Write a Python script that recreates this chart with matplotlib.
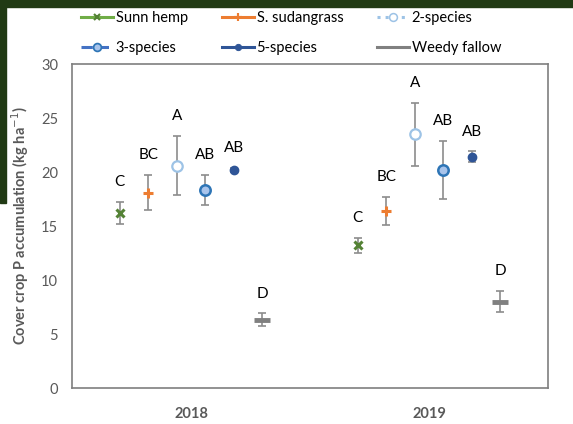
import numpy as np
import matplotlib
matplotlib.use("Agg")
import matplotlib.pyplot as plt
from matplotlib.lines import Line2D
from matplotlib.patches import Rectangle

plt.rcParams['font.family'] = ['Lato', 'DejaVu Sans']

years = ['2018', '2019']
treatments = ['Sunn hemp', 'S. sudangrass', '2-species', '3-species', '5-species', 'Weedy fallow']

# mean P accumulation per treatment, [2018, 2019]
means = {
    'Sunn hemp':     [16.2, 13.2],
    'S. sudangrass': [18.1, 16.4],
    '2-species':     [20.6, 23.5],
    '3-species':     [18.3, 20.2],
    '5-species':     [20.2, 21.4],
    'Weedy fallow':  [6.3, 8.0],
}
errors = {
    'Sunn hemp':     [1.0, 0.7],
    'S. sudangrass': [1.6, 1.3],
    '2-species':     [2.7, 2.9],
    '3-species':     [1.4, 2.7],
    '5-species':     [0.2, 0.5],
    'Weedy fallow':  [0.6, 1.0],
}
letters = {
    'Sunn hemp':     ['C', 'C'],
    'S. sudangrass': ['BC', 'BC'],
    '2-species':     ['A', 'A'],
    '3-species':     ['AB', 'AB'],
    '5-species':     ['AB', 'AB'],
    'Weedy fallow':  ['D', 'D'],
}

# marker style per treatment
styles = {
    'Sunn hemp':     dict(marker='x', ms=6, mfc='#548235', mec='#548235', mew=2.2, ls='-', lc='#70AD47'),
    'S. sudangrass': dict(marker='+', ms=7, mfc='#ED7D31', mec='#ED7D31', mew=2.2, ls='-', lc='#ED7D31'),
    '2-species':     dict(marker='o', ms=7.5, mfc='white', mec='#9DC3E6', mew=1.6, ls=':', lc='#9DC3E6'),
    '3-species':     dict(marker='o', ms=7.5, mfc='#A9C4EB', mec='#2E75B6', mew=1.8, ls='--', lc='#4472C4'),
    '5-species':     dict(marker='o', ms=6, mfc='#2F5597', mec='#2F5597', mew=1.0, ls='-', lc='#2F5597'),
    'Weedy fallow':  dict(marker='_', ms=11, mfc='#808080', mec='#808080', mew=3.5, ls='-', lc='#808080'),
}

offsets = [-0.3, -0.18, -0.06, 0.06, 0.18, 0.3]
grey = '#595959'

fig = plt.figure(figsize=(5.73, 4.24), dpi=100)
ax = fig.add_axes([72 / 573, 1 - 388 / 424, 476 / 573, 324 / 424])

x = np.arange(len(years))
for t, off in zip(treatments, offsets):
    s = styles[t]
    xs = x + off
    ax.errorbar(xs, means[t], yerr=errors[t], fmt='none', ecolor='#8C8C8C',
                elinewidth=1.2, capsize=3, capthick=1.2, zorder=2)
    ax.plot(xs, means[t], linestyle='none', marker=s['marker'], markersize=s['ms'],
            markerfacecolor=s['mfc'], markeredgecolor=s['mec'], markeredgewidth=s['mew'], zorder=3)
    for xi, m, e, lab in zip(xs, means[t], errors[t], letters[t]):
        ax.text(xi, m + e + 1.85, lab, ha='center', va='center', fontsize=11, color='black')

ax.set_xlim(-0.5, 1.5)
ax.set_ylim(0, 30)
ax.set_yticks(np.arange(0, 31, 5))
ax.set_xticks(x)
ax.set_xticklabels(years, fontweight='bold')
ax.tick_params(axis='both', length=0, colors=grey, labelsize=10.5)
ax.tick_params(axis='x', pad=14)
ax.tick_params(axis='y', pad=10)
for sp in ax.spines.values():
    sp.set_color('#7F7F7F')
    sp.set_linewidth(1.2)
ax.set_ylabel('Cover crop P accumulation (kg ha$^{-1}$)', fontweight='bold', color=grey, fontsize=10.5)
ax.yaxis.set_label_coords(-0.086, 0.5)

handles = {}
for t in treatments:
    s = styles[t]
    if t == 'Weedy fallow':
        h = Line2D([], [], color=s['lc'], lw=2.2, ls='-')
    else:
        h = Line2D([], [], color=s['lc'], lw=2.2, ls=s['ls'], marker=s['marker'],
                   markersize=s['ms'] * 0.75, markerfacecolor=s['mfc'],
                   markeredgecolor=s['mec'], markeredgewidth=s['mew'] * 0.7)
    handles[t] = h
# legend fills by column, so reorder to read row by row
order = [treatments[i] for i in (0, 3, 1, 4, 2, 5)]
fig.legend([handles[t] for t in order], order, loc='center', bbox_to_anchor=(0.508, 1 - 33 / 424),
           ncol=3, frameon=False, fontsize=10.5, handlelength=2.2, handletextpad=0.2,
           columnspacing=2.3, labelspacing=1.1)

# dark slide border on top and left
border = '#213A14'
fig.patches.append(Rectangle((0, 1 - 7 / 424), 1, 7 / 424, transform=fig.transFigure,
                             color=border, zorder=0))
fig.patches.append(Rectangle((0, 1 - 203 / 424), 6 / 573, 203 / 424, transform=fig.transFigure,
                             color=border, zorder=0))

fig.savefig('out.png', dpi=100)
